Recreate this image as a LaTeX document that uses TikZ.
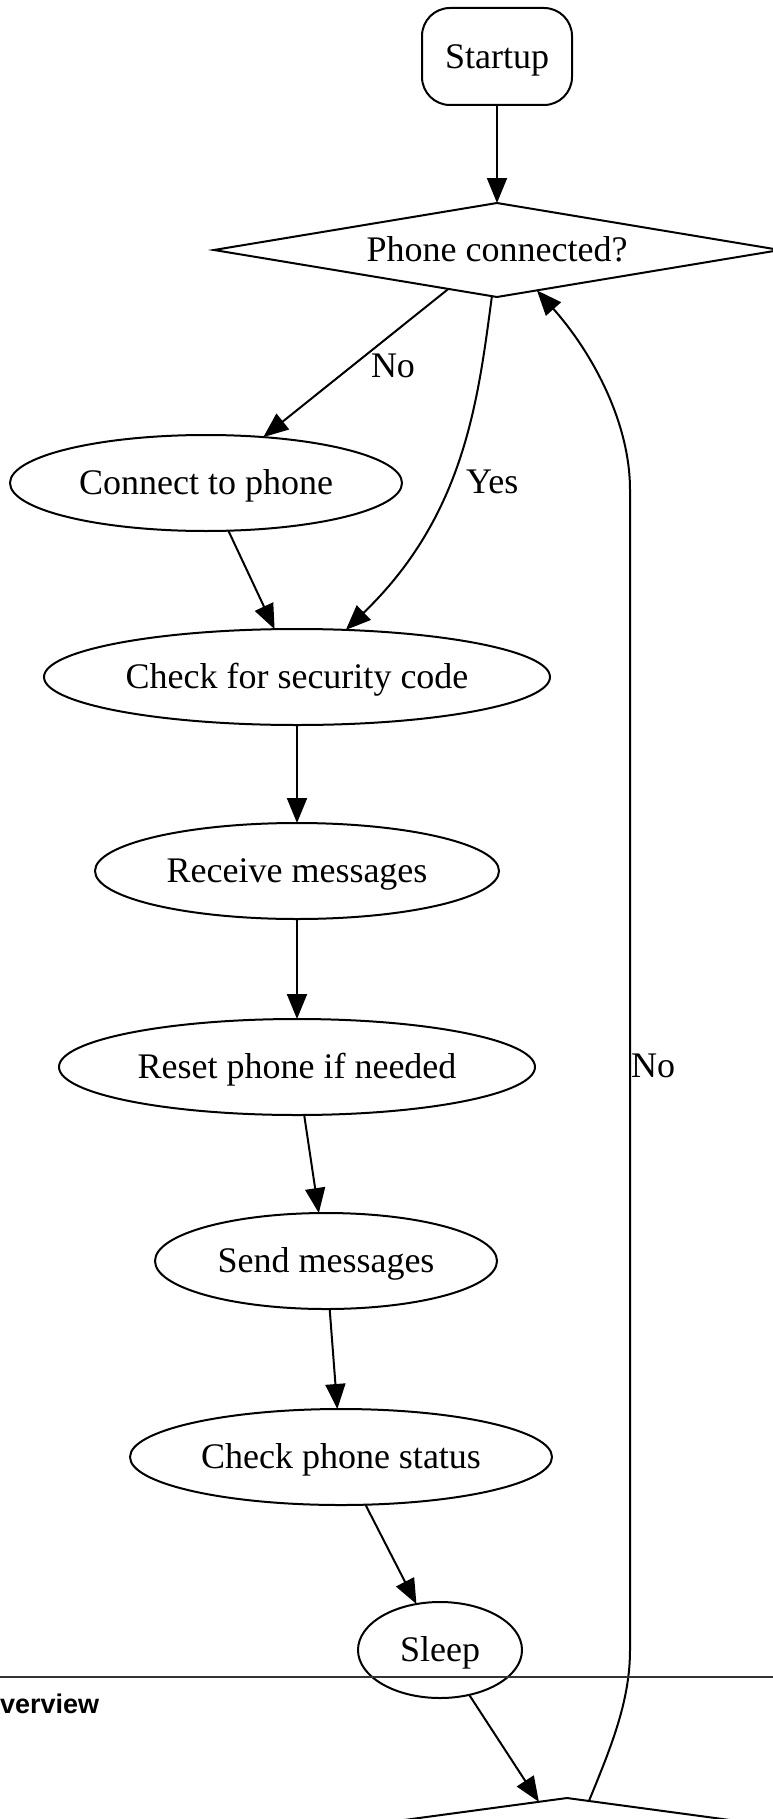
\documentclass[tikz,border=0pt]{standalone}
\usepackage{fontspec}
\setmainfont{Liberation Serif}
\newfontfamily\headsans{Liberation Sans}
\usetikzlibrary{shapes.geometric,arrows.meta,calc}
\begin{document}
\begin{tikzpicture}[x=1pt,y=-1pt,
  every node/.style={font=\fontsize{36}{43}\selectfont, inner sep=0pt, outer sep=0pt},
  shapetext/.style={text height=23.8pt, text depth=0pt},
  proc/.style={shapetext, draw, line width=2pt, ellipse, minimum height=96pt},
  decision/.style={shapetext, draw, line width=2pt, diamond, aspect=6, minimum height=94pt},
  startbox/.style={shapetext, draw, line width=2pt, rectangle, rounded corners=28pt, minimum width=150pt, minimum height=97pt},
  flow/.style={line width=2pt, -{Triangle[length=25pt,width=20pt]}},
  lbl/.style={anchor=base west},
  rulestyle/.style={line width=1.5pt, black!80},
  heading/.style={anchor=base west, font=\headsans\bfseries\fontsize{27}{32}\selectfont}
]
\useasboundingbox (0,0) rectangle (773,1819);
\clip (0,0) rectangle (773,1819);

% nodes
\node[startbox] (start) at (497,56.5) {Startup};
\node[decision, minimum width=566pt] (pc) at (497,250) {Phone connected?};
\node[proc, minimum width=392pt] (conn) at (206,483) {Connect to phone};
\node[proc, minimum width=506pt] (sec) at (297,677) {Check for security code};
\node[proc, minimum width=404pt] (recv) at (297,871) {Receive messages};
\node[proc, minimum width=476pt] (reset) at (297,1067) {Reset phone if needed};
\node[proc, minimum width=342pt] (send) at (326,1261) {Send messages};
\node[proc, minimum width=422pt] (status) at (341,1457) {Check phone status};
\node[proc, minimum width=164pt] (sleep) at (440,1650) {Sleep};
\node[decision, minimum width=696pt] (dec2) at (567,1845) {};

% edge labels
\node[lbl] (lno1) at (371,377) {No};
\node[lbl] (lyes) at (466,493) {Yes};
\node[lbl] (lno2) at (631,1077) {No};

% connectors
\draw[flow] (start) -- (pc);
\draw[flow] (pc) -- (conn);
\draw[flow] ($(pc.south)!0.018!(pc.west)$) .. controls (478,400) and (465,515) .. (sec);
\draw[flow] (conn) -- (sec);
\draw[flow] (sec) -- (recv);
\draw[flow] (recv) -- (reset);
\draw[flow] (reset) -- (send);
\draw[flow] (send) -- (status);
\draw[flow] (status) -- (sleep);
\draw[flow] (sleep) -- (dec2);
\coordinate (loopA) at (630,1650);
\coordinate (loopB) at (630,490);
\draw[flow] ($(dec2.north)!0.063!(dec2.east)$) .. controls (612,1745) and (630,1700) .. (loopA)
  -- (loopB) .. controls (630,420) and (590,350) .. ($(pc.south)!0.141!(pc.east)$);

% page rule and heading
\draw[rulestyle] (0,1677) -- (773,1677);
\node[heading] (ovw) at (0,1713) {verview};
\end{tikzpicture}
\end{document}
